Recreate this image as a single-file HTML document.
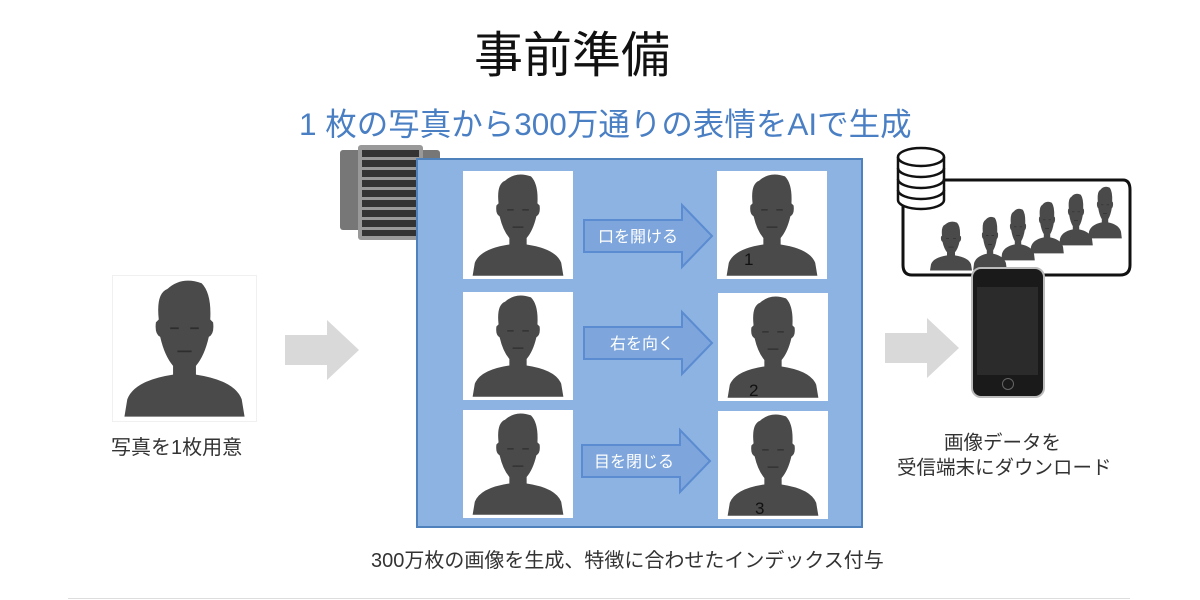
<!DOCTYPE html>
<html><head><meta charset="utf-8">
<style>
body{margin:0;width:1200px;height:600px;background:#fff;position:relative;overflow:hidden;font-family:"Liberation Sans","Noto Sans CJK JP",sans-serif;}
.t{position:absolute;white-space:nowrap;}
.panel{position:absolute;background:#fff;width:110px;height:108px;}
.panel svg{width:100%;height:100%;display:block}
.num{position:absolute;font-size:17px;color:#111;}
</style></head><body>
<svg width="0" height="0" style="position:absolute">
<defs>
<symbol id="head" viewBox="0 0 100 100">
<path fill="#4a4a4a" d="M38,9 Q48,0 62,5 Q69,12 68,30 L70,32 Q71,40 67,42 Q64,55 58,62 L58,68 Q85,72 90,85 L92,97 L8,97 L10,85 Q15,72 42,68 L42,62 Q36,55 33,42 Q29,40 30,32 L32,30 Q30,12 38,9 Z"/>
<path stroke="#2e2e2e" stroke-width="1.2" fill="none" d="M40,36 L46,36 M54,36 L60,36 M45,52 L55,52"/>
</symbol>
</defs>
</svg>

<div class="t" style="left:474px;top:16px;font-size:49px;color:#111;">事前準備</div>
<div class="t" style="left:299px;top:99px;font-size:31.5px;color:#4a7fc4;">1 枚の写真から300万通りの表情をAIで生成</div>

<!-- server icon -->
<svg style="position:absolute;left:338px;top:145px" width="105" height="95">
<rect x="2" y="5" width="36" height="80" rx="3" fill="#777"/>
<rect x="66" y="5" width="36" height="80" rx="3" fill="#777"/>
<rect x="20" y="0" width="65" height="95" rx="3" fill="#999"/>
<g fill="#333">
<rect x="24" y="5" width="57" height="7"/><rect x="24" y="15" width="57" height="7"/><rect x="24" y="25" width="57" height="7"/><rect x="24" y="35" width="57" height="7"/><rect x="24" y="45" width="57" height="7"/><rect x="24" y="55" width="57" height="7"/><rect x="24" y="65" width="57" height="7"/><rect x="24" y="75" width="57" height="7"/><rect x="24" y="85" width="57" height="6"/>
</g>
</svg>

<!-- blue box -->
<div style="position:absolute;left:416px;top:158px;width:443px;height:366px;background:#8db3e2;border:2px solid #4f81bd;"></div>

<!-- panels -->
<div class="panel" style="left:463px;top:171px;"><svg><use href="#head"/></svg></div>
<div class="panel" style="left:463px;top:292px;"><svg><use href="#head"/></svg></div>
<div class="panel" style="left:463px;top:410px;"><svg><use href="#head"/></svg></div>
<div class="panel" style="left:717px;top:171px;"><svg><use href="#head"/></svg></div>
<div class="panel" style="left:718px;top:293px;"><svg><use href="#head"/></svg></div>
<div class="panel" style="left:718px;top:411px;"><svg><use href="#head"/></svg></div>
<div class="num" style="left:744px;top:250px;">1</div>
<div class="num" style="left:749px;top:381px;">2</div>
<div class="num" style="left:755px;top:499px;">3</div>

<!-- blue arrows -->
<svg style="position:absolute;left:580px;top:200px" width="140" height="300">
<g fill="#7ea6dc" stroke="#5b8bd0" stroke-width="2">
<path d="M4,20 L102,20 L102,5 L132,36 L102,67 L102,52 L4,52 Z"/>
<path d="M4,127 L102,127 L102,112 L132,143 L102,174 L102,159 L4,159 Z"/>
<path d="M2,245 L100,245 L100,230 L130,261 L100,292 L100,277 L2,277 Z"/>
</g>
<g font-size="16" fill="#fff" font-family="Liberation Sans, Noto Sans CJK JP, sans-serif">
<text x="18" y="42">口を開ける</text>
<text x="30" y="149">右を向く</text>
<text x="14" y="267">目を閉じる</text>
</g>
</svg>

<!-- left photo -->
<div style="position:absolute;left:112px;top:275px;width:143px;height:145px;background:#fff;border:1px solid #f0f0f0"><svg width="143" height="145" viewBox="0 0 100 100" preserveAspectRatio="none"><use href="#head"/></svg></div>
<div class="t" style="left:111px;top:431px;font-size:20px;color:#333;">写真を1枚用意</div>

<!-- grey arrows -->
<svg style="position:absolute;left:283px;top:318px" width="80" height="64"><path d="M2,17 L44,17 L44,2 L76,32 L44,62 L44,47 L2,47 Z" fill="#d9d9d9"/></svg>
<svg style="position:absolute;left:883px;top:316px" width="80" height="64"><path d="M2,17 L44,17 L44,2 L76,32 L44,62 L44,47 L2,47 Z" fill="#d9d9d9"/></svg>

<!-- db + rounded -->
<svg style="position:absolute;left:890px;top:145px" width="245" height="135">
<path d="M33,35 L233,35 Q240,35 240,45 L240,120 Q240,130 230,130 L22,130 Q13,130 13,120 L13,60" fill="#fff" stroke="#111" stroke-width="3"/>
<g fill="#fff" stroke="#111" stroke-width="2.5">
<path d="M8,12 L8,55 A23,9 0 0 0 54,55 L54,12"/>
<ellipse cx="31" cy="12" rx="23" ry="9"/>
<path d="M8,23 A23,9 0 0 0 54,23 M8,34 A23,9 0 0 0 54,34 M8,45 A23,9 0 0 0 54,45" fill="none"/>
</g>
<g>
<svg x="195" y="40" width="40" height="55" viewBox="0 0 100 100" preserveAspectRatio="none"><use href="#head"/></svg>
<svg x="166" y="47" width="40" height="55" viewBox="0 0 100 100" preserveAspectRatio="none"><use href="#head"/></svg>
<svg x="137" y="55" width="40" height="55" viewBox="0 0 100 100" preserveAspectRatio="none"><use href="#head"/></svg>
<svg x="108" y="62" width="40" height="55" viewBox="0 0 100 100" preserveAspectRatio="none"><use href="#head"/></svg>
<svg x="80" y="70" width="40" height="57" viewBox="0 0 100 100" preserveAspectRatio="none"><use href="#head"/></svg>
<svg x="36" y="75" width="50" height="52" viewBox="0 0 100 100" preserveAspectRatio="none"><use href="#head"/></svg>
</g>
</svg>

<!-- phone -->
<div style="position:absolute;left:971px;top:267px;width:70px;height:127px;border-radius:10px;background:#1a1a1a;border:2px solid #bbb;"></div>
<div style="position:absolute;left:977px;top:287px;width:61px;height:88px;background:#2b2b2b;"></div>
<div style="position:absolute;left:1002px;top:378px;width:10px;height:10px;border-radius:50%;border:1px solid #666;"></div>

<div class="t" style="left:944px;top:426px;font-size:19.5px;color:#333;">画像データを</div>
<div class="t" style="left:897px;top:451px;font-size:19.5px;color:#333;">受信端末にダウンロード</div>

<div class="t" style="left:371px;top:544px;font-size:20px;color:#333;">300万枚の画像を生成、特徴に合わせたインデックス付与</div>
<div style="position:absolute;left:68px;top:598px;width:1062px;height:1px;background:#ddd"></div>
</body></html>
